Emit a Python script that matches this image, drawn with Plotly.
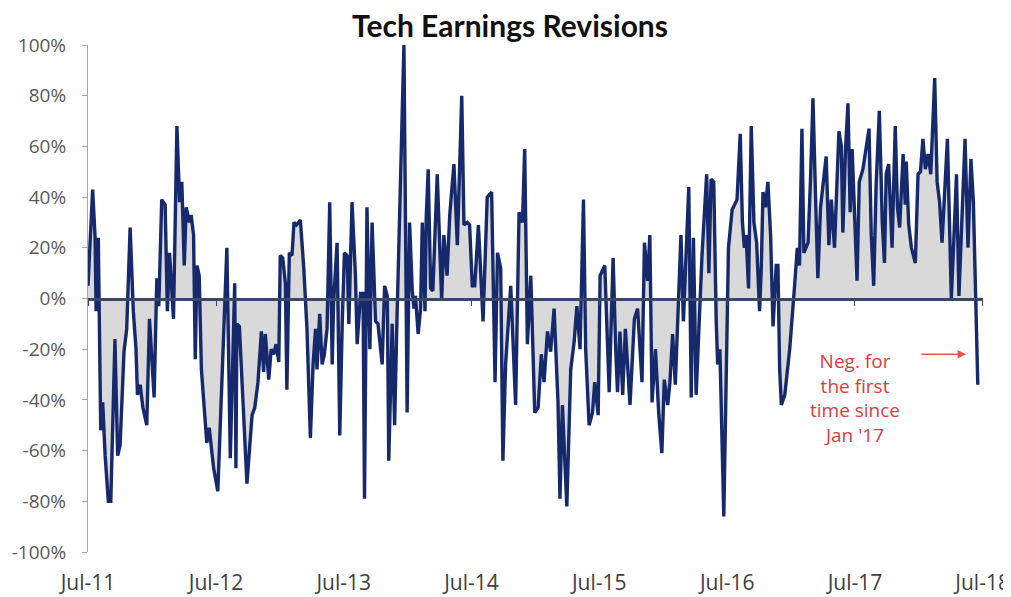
import numpy as np
import pandas as pd
import plotly.graph_objects as go

# ---- data ----
start_date = "2011-07-01"
# position of each observation, in weeks after start_date
weeks = [
    0, 1.9, 2.9, 3.3, 4.2, 5.2, 6.0, 7.0, 8.3, 9.3, 11.0, 12.1, 13.1, 14.7, 15.8, 17.2, 18.5,
    19.6, 20.2, 21.3, 22.4, 24.0, 25.1, 27.0, 28.1, 28.9, 30.1, 31.5, 32.4, 33.3, 34.9, 36.3,
    37.4, 38.3, 39.3, 40.1, 41.4, 42.1, 43.1, 43.8, 44.5, 45.4, 46.3, 48.5, 49.5, 51.3, 53.0,
    56.7, 58.1, 59.9, 60.4, 60.8, 61.8, 64.9, 65.9, 67.0, 68.1, 69.4, 70.8, 71.7, 72.4, 73.8,
    74.8, 75.8, 76.8, 77.9, 78.5, 79.5, 80.6, 81.2, 82.2, 83.3, 84.1, 85.1, 86.7, 88.1, 89.4,
    90.8, 91.9, 92.9, 93.5, 94.6, 95.6, 96.5, 97.6, 98.7, 99.7, 100.3, 101.7, 102.8, 103.8,
    104.7, 105.8, 106.5, 107.8, 109.2, 109.9, 111.3, 112.3, 112.9, 113.9, 115.1, 116.0, 117.4,
    118.4, 120.1, 121.1, 122.2, 122.8, 124.2, 125.2, 126.0, 129.0, 130.3, 131.3, 132.4, 133.1,
    133.7, 134.8, 135.8, 136.5, 137.6, 138.1, 138.9, 139.9, 140.8, 142.6, 143.3, 144.4, 145.3,
    146.6, 147.7, 149.4, 150.8, 151.5, 152.6, 153.5, 154.9, 155.8, 156.9, 157.9, 159.4, 161.3,
    163.0, 164.8, 166.2, 167.2, 168.5, 169.4, 170.5, 172.6, 174.6, 176.0, 177.4, 178.3, 179.4,
    180.8, 182.4, 183.8, 185.1, 186.2, 187.6, 188.9, 190.3, 191.9, 192.7, 193.7, 195.5, 197.1,
    198.5, 199.6, 200.9, 202.3, 203.2, 204.6, 206.0, 206.9, 208.3, 209.1, 211.0, 212.8, 214.4,
    215.5, 216.2, 217.2, 218.3, 219.4, 221.3, 223.1, 224.4, 226.2, 227.2, 228.5, 229.4, 230.3,
    231.7, 233.0, 234.3, 235.3, 236.7, 237.6, 238.7, 239.8, 242.1, 243.1, 245.3, 246.3, 247.2,
    248.3, 250.7, 252.6, 253.5, 254.4, 255.5, 256.5, 257.1, 258.0, 259.6, 261.5, 263.0, 265.0,
    266.3, 267.2, 268.0, 268.7, 269.7, 270.8, 271.9, 273.0, 274.2, 274.9, 275.6, 276.6, 277.6,
    278.7, 279.7, 281.0, 281.7, 282.4, 283.1, 284.5, 286.5, 288.5, 289.6, 290.5, 291.5, 292.3,
    294.0, 295.0, 296.0, 297.0, 298.0, 299.1, 301.4, 302.5, 303.5, 304.8, 306.6, 307.6, 308.2,
    309.3, 310.3, 311.2, 312.0, 314.0, 314.9, 316.4, 318.9, 319.8, 320.8, 321.8, 323.1, 324.3,
    325.2, 325.9, 326.9, 328.3, 329.6, 330.5, 331.4, 332.8, 333.7, 334.1, 335.1, 336.2, 337.8,
    338.9, 339.9, 340.9, 341.9, 343.0, 344.1, 345.7, 346.7, 347.7, 348.7, 350.9, 351.8, 352.5,
    353.6, 354.6, 355.6, 356.9, 358.1, 359.3, 360.5, 361.5, 362.4, 363.3,
]
revisions = [
    5, 43, 24, -5, 24, -52, -41, -62, -80, -80, -16, -62, -58, -21, -12, 28, -5,
    -20, -38, -34, -43, -50, -8, -39, 8, -3, 39, 37, -5, 18, -8, 68,
    38, 46, 13, 36, 30, 33, 25, -24, 13, 9, -28, -57, -51, -67, -76,
    20, -63, 6, -67, -10, -11, -73, -60, -46, -43, -33, -13, -29, -14, -32,
    -20, -22, -18, -25, 17, 16, 6, -36, 18, 17, 30, 29, 31, 12, -12,
    -55, -26, -12, -28, -6, -26, -22, -12, 38, -26, -1, 22, -54, -10,
    18, 17, -10, 38, 9, -18, 2, 2, -79, 36, -20, 30, -9,
    -10, -26, 5, 1, -64, -10, -50, -14, 100, -45, 30, 3, -4,
    1, -14, -4, 30, -5, 32, 51, 4, 3, 49, 25, -1, 25,
    9, 33, 53, 21, 45, 80, 29, 30, 29, 5, 5, 29, -9,
    40, 42, -33, 18, 12, -64, -26, 5, -42, 34, 30, 59, -18,
    9, -45, -43, -22, -33, -13, -21, -4, -41, -79, -42, -82, -28,
    -17, -3, -20, 39, -20, -50, -45, -33, -46, 9, 13, -37, 16,
    -21, -37, -13, -38, -12, -42, -8, -4, -33, 22, 7, 25, -41,
    -20, -45, -61, -32, -42, -33, -14, -34, 25, -9, 44, -39, 24,
    -38, 17, 49, 10, 47, 46, -9, -26, -20, -86, 20, 35, 39,
    65, 30, 20, 25, 4, 68, 30, 22, -5, 12, 42, 36, 46,
    25, -11, 13, 13, -28, -42, -38, -20, 5, 20, 13, 67, 18,
    22, 47, 79, 42, 8, 36, 56, 21, 39, 20, 66, 60, 26,
    59, 77, 34, 59, 7, 46, 51, 67, 25, 5, 45, 74, 30,
    14, 49, 53, 20, 68, 36, 28, 57, 37, 54, 29, 20, 14,
    49, 50, 63, 51, 57, 49, 87, 46, 38, 22, 63, 25, 0,
    25, 49, 1, 37, 63, 20, 55, 38, 1, -34,
]
tick_dates = ["2011-07-01", "2012-07-01", "2013-07-01", "2014-07-01",
              "2015-07-01", "2016-07-01", "2017-07-01", "2018-07-01"]
tick_labels = ["Jul-11", "Jul-12", "Jul-13", "Jul-14", "Jul-15", "Jul-16", "Jul-17", "Jul-18"]
y_ticks = [-100, -80, -60, -40, -20, 0, 20, 40, 60, 80, 100]
y_tick_labels = ["-100%", "-80%", "-60%", "-40%", "-20%", "0%", "20%", "40%", "60%", "80%", "100%"]

dates = pd.Timestamp(start_date) + pd.to_timedelta(np.array(weeks) * 7, unit="D")

LINE = "#15296c"
TITLE_FONT = "Lato"
FONT = "Open Sans"
x_range = ["2011-07-01", "2018-07-02"]

fig = go.Figure()
fig.add_trace(go.Scatter(x=dates, y=revisions, mode="lines", fill="tozeroy",
                         fillcolor="#d9d9d9", line=dict(width=0, color="#d9d9d9"),
                         hoverinfo="skip", showlegend=False))
fig.add_trace(go.Scatter(x=dates, y=revisions, mode="lines", xaxis="x2",
                         line=dict(color=LINE, width=3.4), showlegend=False))

# the page body has an 8px margin, so the figure is 8px smaller than the window
fig.update_layout(
    width=1003, height=589,
    margin=dict(l=80, r=28, t=37, b=45),
    paper_bgcolor="white", plot_bgcolor="white",
    font=dict(family=FONT),
    title=dict(text="<b>Tech Earnings Revisions</b>", x=0.5005, xref="container",
               xanchor="center", y=0.969, yref="container", yanchor="middle",
               font=dict(family=TITLE_FONT, size=30, color="#111111")),
    xaxis=dict(type="date", range=x_range, tickvals=tick_dates, ticktext=tick_labels,
               showgrid=False, zeroline=False, showline=False, ticks="", automargin=False,
               tickfont=dict(family=FONT, size=21, color="#404040"),
               ticklabelstandoff=16),
    xaxis2=dict(type="date", range=x_range, overlaying="x", anchor="free", position=0.5,
                tickvals=tick_dates, showticklabels=False, showgrid=False, zeroline=False,
                showline=True, linecolor="#3a4768", linewidth=2.5, automargin=False,
                ticks="outside", ticklen=6, tickwidth=1.2, tickcolor="#3a4768"),
    yaxis=dict(range=[-100, 100], tickvals=y_ticks, ticktext=y_tick_labels, showgrid=False,
               zeroline=False, showline=True, linecolor="#a6a6a6", linewidth=1.2,
               ticks="outside", ticklen=5, tickcolor="#a6a6a6", automargin=False,
               tickfont=dict(family=FONT, size=19, color="#595959"),
               ticklabelstandoff=12),
)

fig.add_annotation(text="Neg. for<br>the first<br>time since<br>Jan '17",
                   xref="paper", yref="paper", x=0.857, y=0.304,
                   xanchor="center", yanchor="middle", showarrow=False, align="center",
                   font=dict(family=FONT, size=19, color="#e23b3b"))
fig.add_annotation(text="", xref="paper", yref="paper", x=0.981, y=0.39,
                   ax=-46, ay=0, showarrow=True, arrowhead=2, arrowsize=1.2,
                   arrowwidth=1.4, arrowcolor="#e8554f")

fig.write_html("out.html")
